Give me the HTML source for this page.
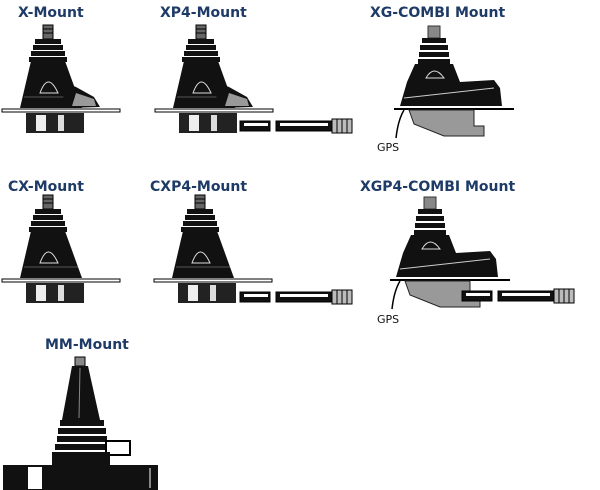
<!DOCTYPE html>
<html><head><style>
body{margin:0;background:#fff;width:600px;height:490px;overflow:hidden}
svg{display:block}
text{font-family:"DejaVu Sans","Liberation Sans",sans-serif;}
.t{font-size:14px;font-weight:bold;fill:#1e3a66}
.g{font-size:11px;fill:#111}
</style></head><body>
<svg width="600" height="490" viewBox="0 0 600 490">
<defs>
<g id="cone">
  <rect x="-5" y="-86" width="10" height="14" fill="#666" stroke="#000"/>
  <line x1="-5" y1="-82" x2="5" y2="-82" stroke="#000"/><line x1="-5" y1="-78" x2="5" y2="-78" stroke="#000"/>
  <rect x="-13" y="-72" width="26" height="5" fill="#111"/>
  <rect x="-15" y="-66" width="30" height="5" fill="#111"/>
  <rect x="-17" y="-60" width="34" height="5" fill="#111"/>
  <rect x="-19" y="-54" width="38" height="5" fill="#111"/>
  <polygon points="-17,-50 17,-50 34,-3 -28,-3" fill="#111"/>
  <path d="M-8,-18 Q0,-40 10,-18 Z" fill="none" stroke="#ddd" stroke-width="1"/>
  <line x1="-24" y1="-14" x2="30" y2="-14" stroke="#555"/>
  <rect x="-46" y="-2" width="118" height="3" fill="#fff" stroke="#000" stroke-width="1"/>
  <rect x="-22" y="2" width="58" height="20" fill="#222"/>
  <rect x="-12" y="4" width="10" height="16" fill="#eee"/>
  <rect x="10" y="4" width="6" height="16" fill="#ddd"/>
</g>
<g id="foot">
  <polygon points="8,-32 28,-24 46,-14 52,-4 20,-3" fill="#111"/>
  <polygon points="28,-18 46,-12 48,-5 24,-5" fill="#999"/>
</g>
<g id="cable">
  <rect x="0" y="0" width="30" height="10" fill="#111" stroke="#000"/>
  <rect x="4" y="2" width="24" height="3" fill="#fff"/>
  <rect x="36" y="0" width="56" height="10" fill="#111" stroke="#000"/>
  <rect x="40" y="2" width="48" height="3" fill="#fff"/>
  <rect x="92" y="-2" width="20" height="14" fill="#bbb" stroke="#000"/>
  <line x1="97" y1="-2" x2="97" y2="12" stroke="#000"/><line x1="102" y1="-2" x2="102" y2="12" stroke="#000"/><line x1="107" y1="-2" x2="107" y2="12" stroke="#000"/>
</g>
<g id="xg">
  <rect x="-6" y="-84" width="12" height="12" fill="#888" stroke="#333"/>
  <rect x="-12" y="-72" width="24" height="5" fill="#111"/>
  <rect x="-14" y="-65" width="28" height="5" fill="#111"/>
  <rect x="-15" y="-58" width="30" height="5" fill="#111"/>
  <rect x="-16" y="-51" width="32" height="5" fill="#111"/>
  <polygon points="-19,-46 19,-46 26,-28 60,-30 66,-22 68,-4 -34,-4 -27,-28" fill="#111"/>
  <path d="M-8,-32 Q0,-46 10,-32 Z" fill="none" stroke="#ddd"/>
  <line x1="-30" y1="-12" x2="60" y2="-22" stroke="#ccc"/>
  <line x1="-40" y1="-1" x2="80" y2="-1" stroke="#000" stroke-width="2"/>
  <polygon points="-25,0 40,0 40,16 50,16 50,26 10,26 -20,14" fill="#999" stroke="#222"/>
  <path d="M-30,0 Q-36,10 -38,28" fill="none" stroke="#000" stroke-width="1.5"/>
</g>
</defs>

<text class="t" x="18" y="17">X-Mount</text>
<text class="t" x="160" y="17">XP4-Mount</text>
<text class="t" x="370" y="17">XG-COMBI Mount</text>
<text class="t" x="8" y="191">CX-Mount</text>
<text class="t" x="150" y="191">CXP4-Mount</text>
<text class="t" x="360" y="191">XGP4-COMBI Mount</text>
<text class="t" x="45" y="349">MM-Mount</text>

<use href="#cone" x="48" y="111"/><use href="#foot" x="48" y="111"/>
<use href="#cone" x="201" y="111"/><use href="#foot" x="201" y="111"/>
<use href="#cable" x="240" y="121"/>
<use href="#xg" x="434" y="110"/>
<text class="g" x="377" y="151">GPS</text>

<use href="#cone" x="48" y="281"/>
<use href="#cone" x="200" y="281"/>
<use href="#cable" x="240" y="292"/>
<use href="#xg" x="430" y="281"/>
<use href="#cable" x="462" y="291"/>
<text class="g" x="377" y="323">GPS</text>

<!-- MM mount -->
<rect x="75" y="357" width="10" height="9" fill="#888" stroke="#000"/>
<polygon points="72,366 88,366 100,420 62,420" fill="#111"/>
<line x1="80" y1="368" x2="79" y2="418" stroke="#888"/>
<rect x="60" y="420" width="44" height="6" fill="#111"/>
<rect x="58" y="428" width="48" height="6" fill="#111"/>
<rect x="57" y="436" width="50" height="6" fill="#111"/>
<rect x="55" y="444" width="54" height="6" fill="#111"/>
<rect x="106" y="441" width="24" height="14" fill="#fff" stroke="#000" stroke-width="2"/>
<rect x="52" y="452" width="58" height="13" fill="#111"/>
<rect x="3" y="465" width="155" height="25" fill="#111"/>
<rect x="28" y="467" width="14" height="22" fill="#fff"/>
<line x1="150" y1="468" x2="150" y2="488" stroke="#fff"/>
</svg>
</body></html>
